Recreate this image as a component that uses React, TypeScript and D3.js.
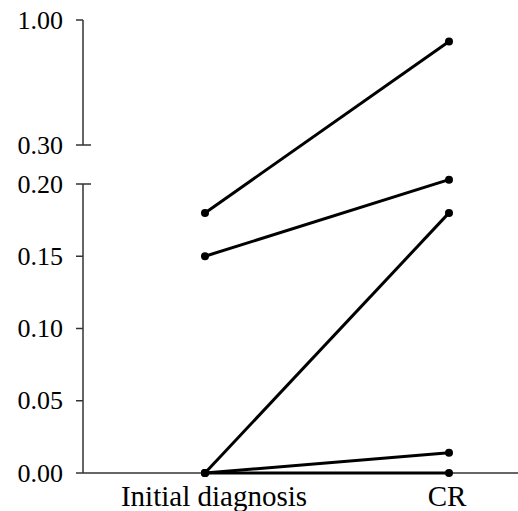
import * as d3 from 'd3'

const categories = ['Initial diagnosis', 'CR']
const initialValues = [0.18, 0.15, 0, 0, 0]
const crValues = [0.88, 0.203, 0.18, 0.014, 0]
const lowerTicks = [0, 0.05, 0.1, 0.15, 0.2]
const upperTicks = [0.3, 1.0]

export default function App() {
  const width = 518
  const height = 511
  const marginLeft = 83
  const axisY = 473

  // broken y axis: two linear pieces
  const yLow = d3.scaleLinear([0, 0.2], [axisY, 184])
  const yHigh = d3.scaleLinear([0.3, 1.0], [145, 20])
  const y = (v: number) => (v < 0.25 ? yLow(v) : yHigh(v))

  const x = d3.scalePoint<string>().domain(categories).range([marginLeft, 571]).padding(0.5)

  const pairs = initialValues.map((v, i) => [
    { cat: categories[0], value: v },
    { cat: categories[1], value: crValues[i] },
  ])

  const line = d3
    .line<{ cat: string; value: number }>()
    .x((d) => x(d.cat) as number)
    .y((d) => y(d.value))

  const fmt = d3.format('.2f')
  const axisColor = '#333'

  return (
    <svg
      width={width}
      height={height}
      style={{ position: 'absolute', left: 0, top: 0, background: '#fff' }}
      fontFamily="'Liberation Serif', 'Times New Roman', serif"
    >
      {/* upper y segment */}
      <line x1={marginLeft} x2={marginLeft} y1={yHigh(1)} y2={yHigh(0.3)} stroke={axisColor} strokeWidth={1.5} />
      {upperTicks.map((t) => (
        <g key={t}>
          <line x1={marginLeft - 7} x2={t === 0.3 ? marginLeft + 8 : marginLeft} y1={yHigh(t)} y2={yHigh(t)} stroke={axisColor} strokeWidth={1.5} />
          <text x={marginLeft - 20} y={yHigh(t)} textAnchor="end" dominantBaseline="central" fontSize={26}>
            {fmt(t)}
          </text>
        </g>
      ))}
      {/* lower y segment */}
      <line x1={marginLeft} x2={marginLeft} y1={yLow(0.2)} y2={yLow(0)} stroke={axisColor} strokeWidth={1.5} />
      {lowerTicks.map((t) => (
        <g key={t}>
          <line x1={marginLeft - 7} x2={t === 0.2 ? marginLeft + 8 : marginLeft} y1={yLow(t)} y2={yLow(t)} stroke={axisColor} strokeWidth={1.5} />
          <text x={marginLeft - 20} y={yLow(t)} textAnchor="end" dominantBaseline="central" fontSize={26}>
            {fmt(t)}
          </text>
        </g>
      ))}
      {/* x axis */}
      <line x1={marginLeft} x2={width} y1={axisY} y2={axisY} stroke={axisColor} strokeWidth={1.5} />
      {categories.map((c, i) => (
        <text key={c} x={(x(c) as number) + (i === 0 ? 9 : -2)} y={506} textAnchor="middle" fontSize={29}>
          {c}
        </text>
      ))}
      {/* paired lines */}
      {pairs.map((p, i) => (
        <g key={i}>
          <path d={line(p) as string} fill="none" stroke="#000" strokeWidth={3} />
          {p.map((d, j) => (
            <circle key={j} cx={x(d.cat) as number} cy={y(d.value)} r={4} fill="#000" />
          ))}
        </g>
      ))}
    </svg>
  )
}
